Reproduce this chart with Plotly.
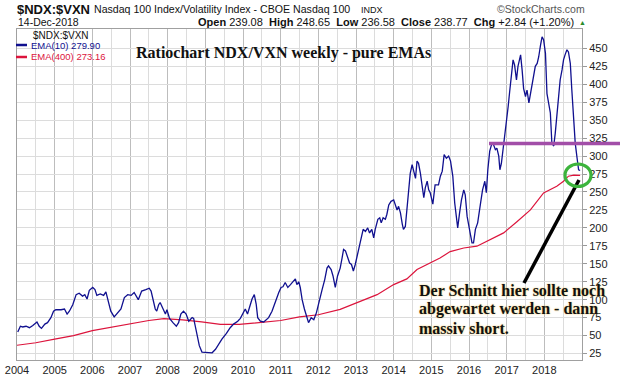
import plotly.graph_objects as go

# ---------------- data ----------------
ema10_years = [
    2004.02, 2004.09, 2004.15, 2004.24, 2004.33, 2004.42, 2004.53, 2004.59, 2004.65, 2004.74,
    2004.81, 2004.90, 2004.97, 2005.03, 2005.17, 2005.26, 2005.33, 2005.39, 2005.48, 2005.57,
    2005.65, 2005.74, 2005.80, 2005.86, 2005.92, 2006.01, 2006.07, 2006.12, 2006.21, 2006.30,
    2006.36, 2006.41, 2006.49, 2006.58, 2006.67, 2006.76, 2006.85, 2006.94, 2007.03, 2007.11,
    2007.22, 2007.31, 2007.42, 2007.51, 2007.56, 2007.63, 2007.67, 2007.71, 2007.76, 2007.80,
    2007.87, 2007.94, 2007.98, 2008.05, 2008.14, 2008.23, 2008.29, 2008.35, 2008.42, 2008.49,
    2008.56, 2008.65, 2008.69, 2008.73, 2008.78, 2008.84, 2008.91, 2009.05, 2009.18, 2009.27,
    2009.35, 2009.44, 2009.56, 2009.66, 2009.75, 2009.86, 2009.93, 2010.00, 2010.06, 2010.12,
    2010.19, 2010.24, 2010.30, 2010.35, 2010.39, 2010.46, 2010.55, 2010.62, 2010.68, 2010.77,
    2010.86, 2010.95, 2011.01, 2011.06, 2011.12, 2011.19, 2011.26, 2011.33, 2011.39, 2011.43,
    2011.48, 2011.52, 2011.57, 2011.63, 2011.68, 2011.74, 2011.81, 2011.88, 2011.95, 2012.01,
    2012.10, 2012.17, 2012.23, 2012.27, 2012.34, 2012.39, 2012.45, 2012.51, 2012.58, 2012.63,
    2012.67, 2012.72, 2012.78, 2012.83, 2012.88, 2012.93, 2012.98, 2013.03, 2013.09, 2013.15,
    2013.19, 2013.25, 2013.31, 2013.36, 2013.42, 2013.47, 2013.51, 2013.58, 2013.63, 2013.67,
    2013.72, 2013.78, 2013.82, 2013.87, 2013.93, 2014.00, 2014.04, 2014.09, 2014.13, 2014.18,
    2014.23, 2014.26, 2014.31, 2014.35, 2014.40, 2014.44, 2014.49, 2014.53, 2014.58, 2014.62,
    2014.66, 2014.71, 2014.75, 2014.80, 2014.84, 2014.89, 2014.93, 2014.97, 2015.04, 2015.10,
    2015.19, 2015.24, 2015.29, 2015.34, 2015.40, 2015.46, 2015.51, 2015.57, 2015.62, 2015.66,
    2015.70, 2015.75, 2015.80, 2015.86, 2015.90, 2015.95, 2015.99, 2016.03, 2016.08, 2016.12,
    2016.17, 2016.23, 2016.30, 2016.36, 2016.42, 2016.46, 2016.50, 2016.55, 2016.61, 2016.65,
    2016.70, 2016.74, 2016.79, 2016.82, 2016.86, 2016.90, 2016.95, 2016.99, 2017.04, 2017.08,
    2017.12, 2017.17, 2017.21, 2017.26, 2017.30, 2017.34, 2017.37, 2017.41, 2017.45, 2017.50,
    2017.54, 2017.59, 2017.63, 2017.67, 2017.72, 2017.76, 2017.81, 2017.85, 2017.90, 2017.94,
    2017.98, 2018.03, 2018.07, 2018.11, 2018.16, 2018.20, 2018.25, 2018.29, 2018.33, 2018.38,
    2018.42, 2018.47, 2018.51, 2018.55, 2018.60, 2018.64, 2018.69, 2018.73, 2018.78, 2018.82,
    2018.87, 2018.91, 2018.95,
]
ema10_values = [
    55, 63, 62, 63, 61, 64, 69, 63, 60, 66,
    68, 75, 84, 86, 86, 87, 80, 84, 93, 107,
    109, 105, 107, 101, 113, 117, 114, 106, 108, 106,
    111, 100, 84, 76, 82, 87, 103, 107, 106, 110,
    100, 112, 114, 116, 112, 96, 87, 84, 93, 96,
    89, 80, 86, 74, 68, 63, 68, 80, 84, 80,
    70, 75, 74, 63, 50, 36, 27, 26, 26, 31,
    38, 45, 53, 61, 66, 70, 74, 82, 87, 80,
    94, 101, 107, 94, 75, 70, 69, 73, 75, 84,
    98, 110, 117, 118, 124, 117, 121, 126, 129, 121,
    125, 117, 100, 87, 77, 68, 75, 72, 82, 96,
    114, 128, 144, 147, 142, 133, 117, 133, 144, 158,
    170, 168, 158, 151, 149, 140, 149, 161, 175, 188,
    198, 195, 200, 193, 198, 186, 198, 212, 214, 207,
    214, 212, 219, 232, 237, 239, 232, 225, 230, 221,
    205, 198, 202, 225, 244, 276, 288, 279, 269, 293,
    290, 276, 260, 242, 256, 265, 253, 249, 233, 260,
    260, 272, 279, 302, 297, 300, 293, 272, 235, 214,
    200, 221, 239, 253, 246, 216, 202, 193, 179, 179,
    198, 207, 232, 253, 265, 249, 281, 307, 318, 316,
    309, 311, 300, 281, 290, 307, 325, 346, 369, 390,
    415, 434, 427, 406, 425, 436, 441, 420, 394, 383,
    392, 374, 387, 397, 411, 425, 429, 438, 455, 466,
    462, 443, 387, 376, 360, 318, 314, 332, 355, 392,
    406, 420, 434, 441, 448, 445, 429, 392, 341, 318,
    297, 281, 279.90,
]

ema400_years = [
    2004.00, 2004.50, 2005.00, 2005.50, 2006.00, 2006.50, 2007.00, 2007.50, 2007.90, 2008.40,
    2008.90, 2009.40, 2009.90, 2010.50, 2011.00, 2011.50, 2012.00, 2012.58, 2013.03, 2013.56,
    2014.00, 2014.35, 2014.62, 2014.97, 2015.23, 2015.50, 2015.86, 2016.21, 2016.57, 2016.92,
    2017.28, 2017.63, 2017.98, 2018.33, 2018.51, 2018.64, 2018.78, 2018.95,
]
ema400_values = [
    36.5, 40, 45, 50, 57, 62, 66.6, 71, 73.5, 72,
    69, 65.5, 65.5, 68, 71, 76, 79, 86.5, 96, 107,
    121, 129, 142, 151, 158, 167, 172, 174.5, 184, 193,
    209, 225, 248.6, 258, 265, 272, 273.5, 273.16,
]

year_ticks = [2004, 2005, 2006, 2007, 2008, 2009, 2010, 2011, 2012, 2013, 2014, 2015, 2016, 2017, 2018]
year_labels = ["2004", "2005", "2006", "2007", "2008", "2009", "2010", "2011", "2012", "2013",
               "2014", "2015", "2016", "2017", "2018"]
value_ticks = [25, 50, 75, 100, 125, 150, 175, 200, 225, 250, 275, 300, 325, 350, 375, 400, 425, 450]

# ---------------- layout helpers ----------------
W, H = 620, 376
L, R, T, B = 17, 38, 29, 16
PW, PH = W - L - R, H - T - B


def px(x):
    return (x - L) / PW


def py(y):
    return (H - B - y) / PH


SANS = "Liberation Sans, Arial, sans-serif"
SERIF = "Liberation Serif, Times New Roman, serif"
BLUE = "#10108f"
RED = "#dc143c"

fig = go.Figure()
fig.add_trace(go.Scatter(x=ema400_years, y=ema400_values, mode="lines",
                         line=dict(color=RED, width=1.2), showlegend=False))
fig.add_trace(go.Scatter(x=ema10_years, y=ema10_values, mode="lines",
                         line=dict(color=BLUE, width=1.3), showlegend=False))

ann = []
# header
ann.append(dict(x=px(15), y=py(9), text="<b>$NDX:$VXN</b>", xanchor="left", yanchor="middle",
                font=dict(family=SANS, size=13, color="#111")))
ann.append(dict(x=px(92), y=py(9), text="Nasdaq 100 Index/Volatility Index - CBOE Nasdaq 100",
                xanchor="left", yanchor="middle", font=dict(family=SANS, size=10.6, color="#111")))
ann.append(dict(x=px(359), y=py(9.5), text="INDX", xanchor="left", yanchor="middle",
                font=dict(family=SANS, size=9, color="#111")))
ann.append(dict(x=px(587), y=py(9), text="©StockCharts.com", xanchor="right", yanchor="middle",
                font=dict(family=SANS, size=10.5, color="#555")))
ann.append(dict(x=px(16), y=py(22), text="14-Dec-2018", xanchor="left", yanchor="middle",
                font=dict(family=SANS, size=10.5, color="#111")))
ann.append(dict(x=px(576), y=py(22),
                text="<b>Open</b> 239.08  <b>High</b> 248.65  <b>Low</b> 236.58  <b>Close</b> 238.77  "
                     "<b>Chg</b> +2.84 (+1.20%)",
                xanchor="right", yanchor="middle", font=dict(family=SANS, size=11, color="#111")))
ann.append(dict(x=px(577), y=py(23), text="▲", xanchor="left", yanchor="middle",
                font=dict(family=SANS, size=7, color="#2a8a2a")))
# legend
ann.append(dict(x=px(31), y=py(35.5), text="$NDX:$VXN", xanchor="left", yanchor="middle",
                font=dict(family=SANS, size=10, color="#111")))
ann.append(dict(x=px(29), y=py(45.5), text=f"EMA(10) {ema10_values[-1]:.2f}", xanchor="left",
                yanchor="middle", font=dict(family=SANS, size=9.5, color=BLUE)))
ann.append(dict(x=px(29), y=py(57), text=f"EMA(400) {ema400_values[-1]:.2f}", xanchor="left",
                yanchor="middle", font=dict(family=SANS, size=9.5, color=RED)))
# title
ann.append(dict(x=px(134), y=py(53), text="<b>Ratiochart NDX/VXN weekly - pure EMAs</b>",
                xanchor="left", yanchor="middle", font=dict(family=SERIF, size=16, color="#111")))
# comment text
for i, line in enumerate(["Der Schnitt hier sollte noch", "abgewartet werden - dann", "massiv short."]):
    ann.append(dict(x=px(417), y=py(290 + 19 * i), text=f"<b>{line}</b>", xanchor="left",
                    yanchor="middle",
                    font=dict(family=SERIF, size=16, color="#111", shadow="0px 0px 2px #f2c75c")))

for a in ann:
    a.update(xref="paper", yref="paper", showarrow=False)

shapes = [
    # legend dashes
    dict(type="line", x0=px(16), x1=px(27), y0=py(45), y1=py(45), line=dict(color=BLUE, width=2.5)),
    dict(type="line", x0=px(16), x1=px(27), y0=py(57), y1=py(57), line=dict(color=RED, width=2.5)),
    # purple horizontal line
    dict(type="line", x0=px(489), x1=px(620), y0=py(143.5), y1=py(143.5),
         line=dict(color="#a24ea8", width=3.5)),
    # black pointer line
    dict(type="line", x0=px(524), y0=py(283), x1=px(579), y1=py(180),
         line=dict(color="#000", width=3.5)),
    # green circle
    dict(type="circle", x0=px(565), x1=px(591), y0=py(186.5), y1=py(164),
         line=dict(color="#3cb43c", width=3.2)),
]
for s in shapes:
    s.update(xref="paper", yref="paper", layer="above")

fig.update_layout(
    template="none",
    width=W, height=H,
    margin=dict(l=L, r=R, t=T, b=B, pad=0, autoexpand=False),
    paper_bgcolor="white", plot_bgcolor="white",
    showlegend=False,
    hovermode=False,
    annotations=ann, shapes=shapes,
    xaxis=dict(range=[2004, 2019], tickmode="array", tickvals=year_ticks, ticktext=year_labels,
               automargin=False,
               showgrid=True, gridcolor="#bdbdbd", gridwidth=1,
               minor=dict(tickmode="linear", tick0=2004.5, dtick=1, showgrid=True,
                          gridcolor="#dcdcdc", gridwidth=1),
               showline=True, linecolor="#a0a0a0", linewidth=1, mirror=True,
               ticks="", zeroline=False,
               tickfont=dict(family=SANS, size=11, color="#222")),
    yaxis=dict(range=[16, 477], side="right", tickmode="array", tickvals=value_ticks,
               automargin=False,
               showgrid=True, gridcolor="#dcdcdc", gridwidth=1,
               showline=True, linecolor="#a0a0a0", linewidth=1, mirror=True,
               ticks="outside", ticklen=4, tickcolor="#999", zeroline=False,
               tickfont=dict(family=SANS, size=11, color="#222")),
)

fig.write_html("out.html", config={"displayModeBar": False, "staticPlot": True},
               post_script="document.body.style.margin='0';document.body.style.overflow='hidden';")
